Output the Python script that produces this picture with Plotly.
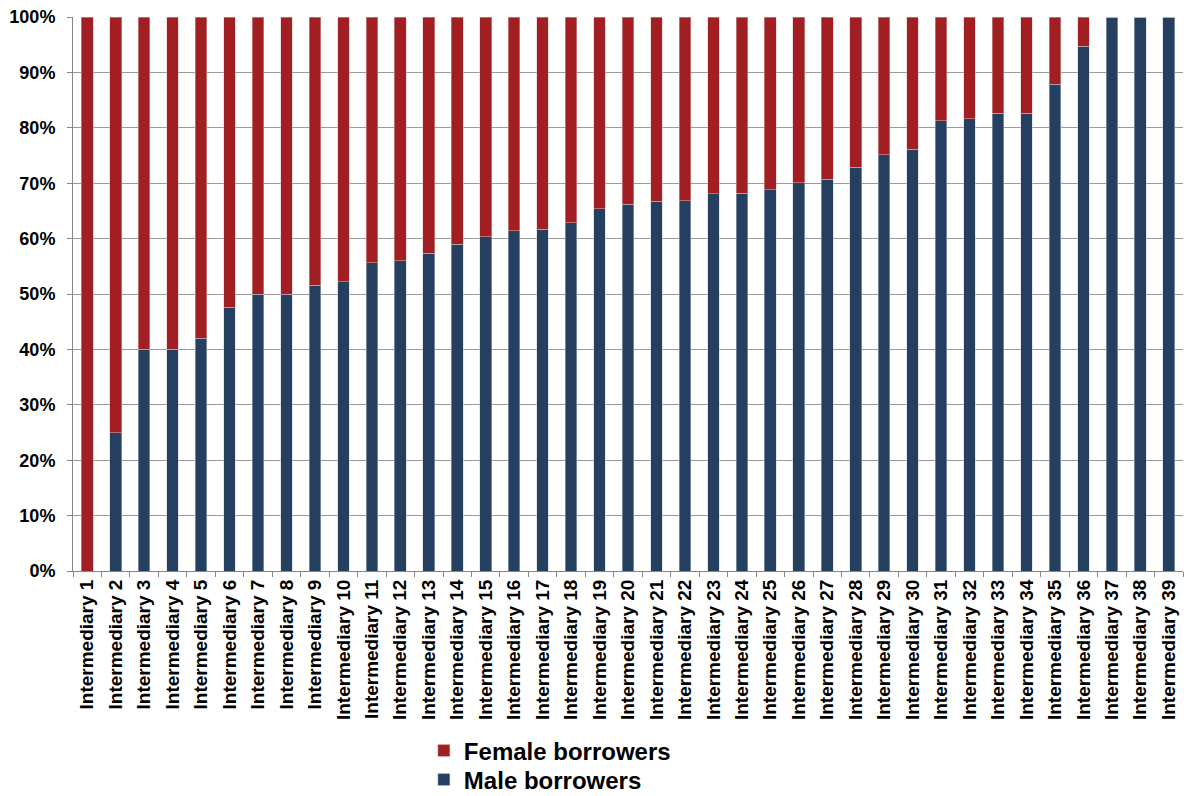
import plotly.graph_objects as go

# Share of borrowers by gender for each intermediary (percent)
intermediaries = [f"Intermediary {i}" for i in range(1, 40)]
male_pct = [0, 25, 40, 40, 42, 47.6, 50, 50, 51.6, 52.2,
            55.6, 56, 57.4, 59, 60.3, 61.4, 61.7, 62.9, 65.4, 66.2,
            66.7, 66.8, 68.1, 68.2, 68.8, 70.1, 70.7, 72.9, 75.1, 76.1,
            81.3, 81.6, 82.6, 82.6, 87.9, 94.7, 100, 100, 100]
female_pct = [round(100 - m, 1) for m in male_pct]

RED = "#A11F22"
NAVY = "#243F60"
FONT = "Liberation Sans, Arial, sans-serif"

fig = go.Figure()
fig.add_trace(go.Bar(
    x=intermediaries, y=male_pct, name="Male borrowers", legend="legend2",
    marker=dict(color=NAVY, line=dict(color="rgba(200,205,215,0.7)", width=0.7)),
))
fig.add_trace(go.Bar(
    x=intermediaries, y=female_pct, name="Female borrowers", legend="legend",
    marker=dict(color=RED, line=dict(color="rgba(225,190,190,0.7)", width=0.7)),
))

legend_style = dict(
    orientation="v", xref="container", yref="container",
    x=0.358, xanchor="left", yanchor="middle",
    font=dict(family=FONT, size=24, weight="bold", color="black"),
    bgcolor="rgba(0,0,0,0)", borderwidth=0,
)

fig.update_layout(
    width=1184, height=796,
    barmode="stack", bargap=0.59,
    plot_bgcolor="white", paper_bgcolor="white",
    margin=dict(l=73, r=1, t=17, b=225, autoexpand=False),
    font=dict(family=FONT, color="black"),
    showlegend=True,
    legend=dict(legend_style, y=1 - 751 / 796),
    legend2=dict(legend_style, y=1 - 780 / 796),
)

fig.update_xaxes(
    type="category", tickangle=-90, tickson="boundaries",
    ticks="outside", ticklen=5, tickcolor="#868686",
    showline=True, linecolor="#868686", linewidth=1,
    showgrid=False, automargin=False,
    tickfont=dict(family=FONT, size=19, weight="bold", color="black"),
)
fig.update_yaxes(
    range=[0, 100], dtick=10, ticksuffix="%",
    ticks="outside", ticklen=5, tickcolor="#868686",
    showline=True, linecolor="#868686", linewidth=1,
    showgrid=True, gridcolor="#9A9A9A", gridwidth=1,
    zeroline=False, ticklabelstandoff=8, automargin=False,
    tickfont=dict(family=FONT, size=18, weight="bold", color="black"),
)

fig.write_html("out.html")
